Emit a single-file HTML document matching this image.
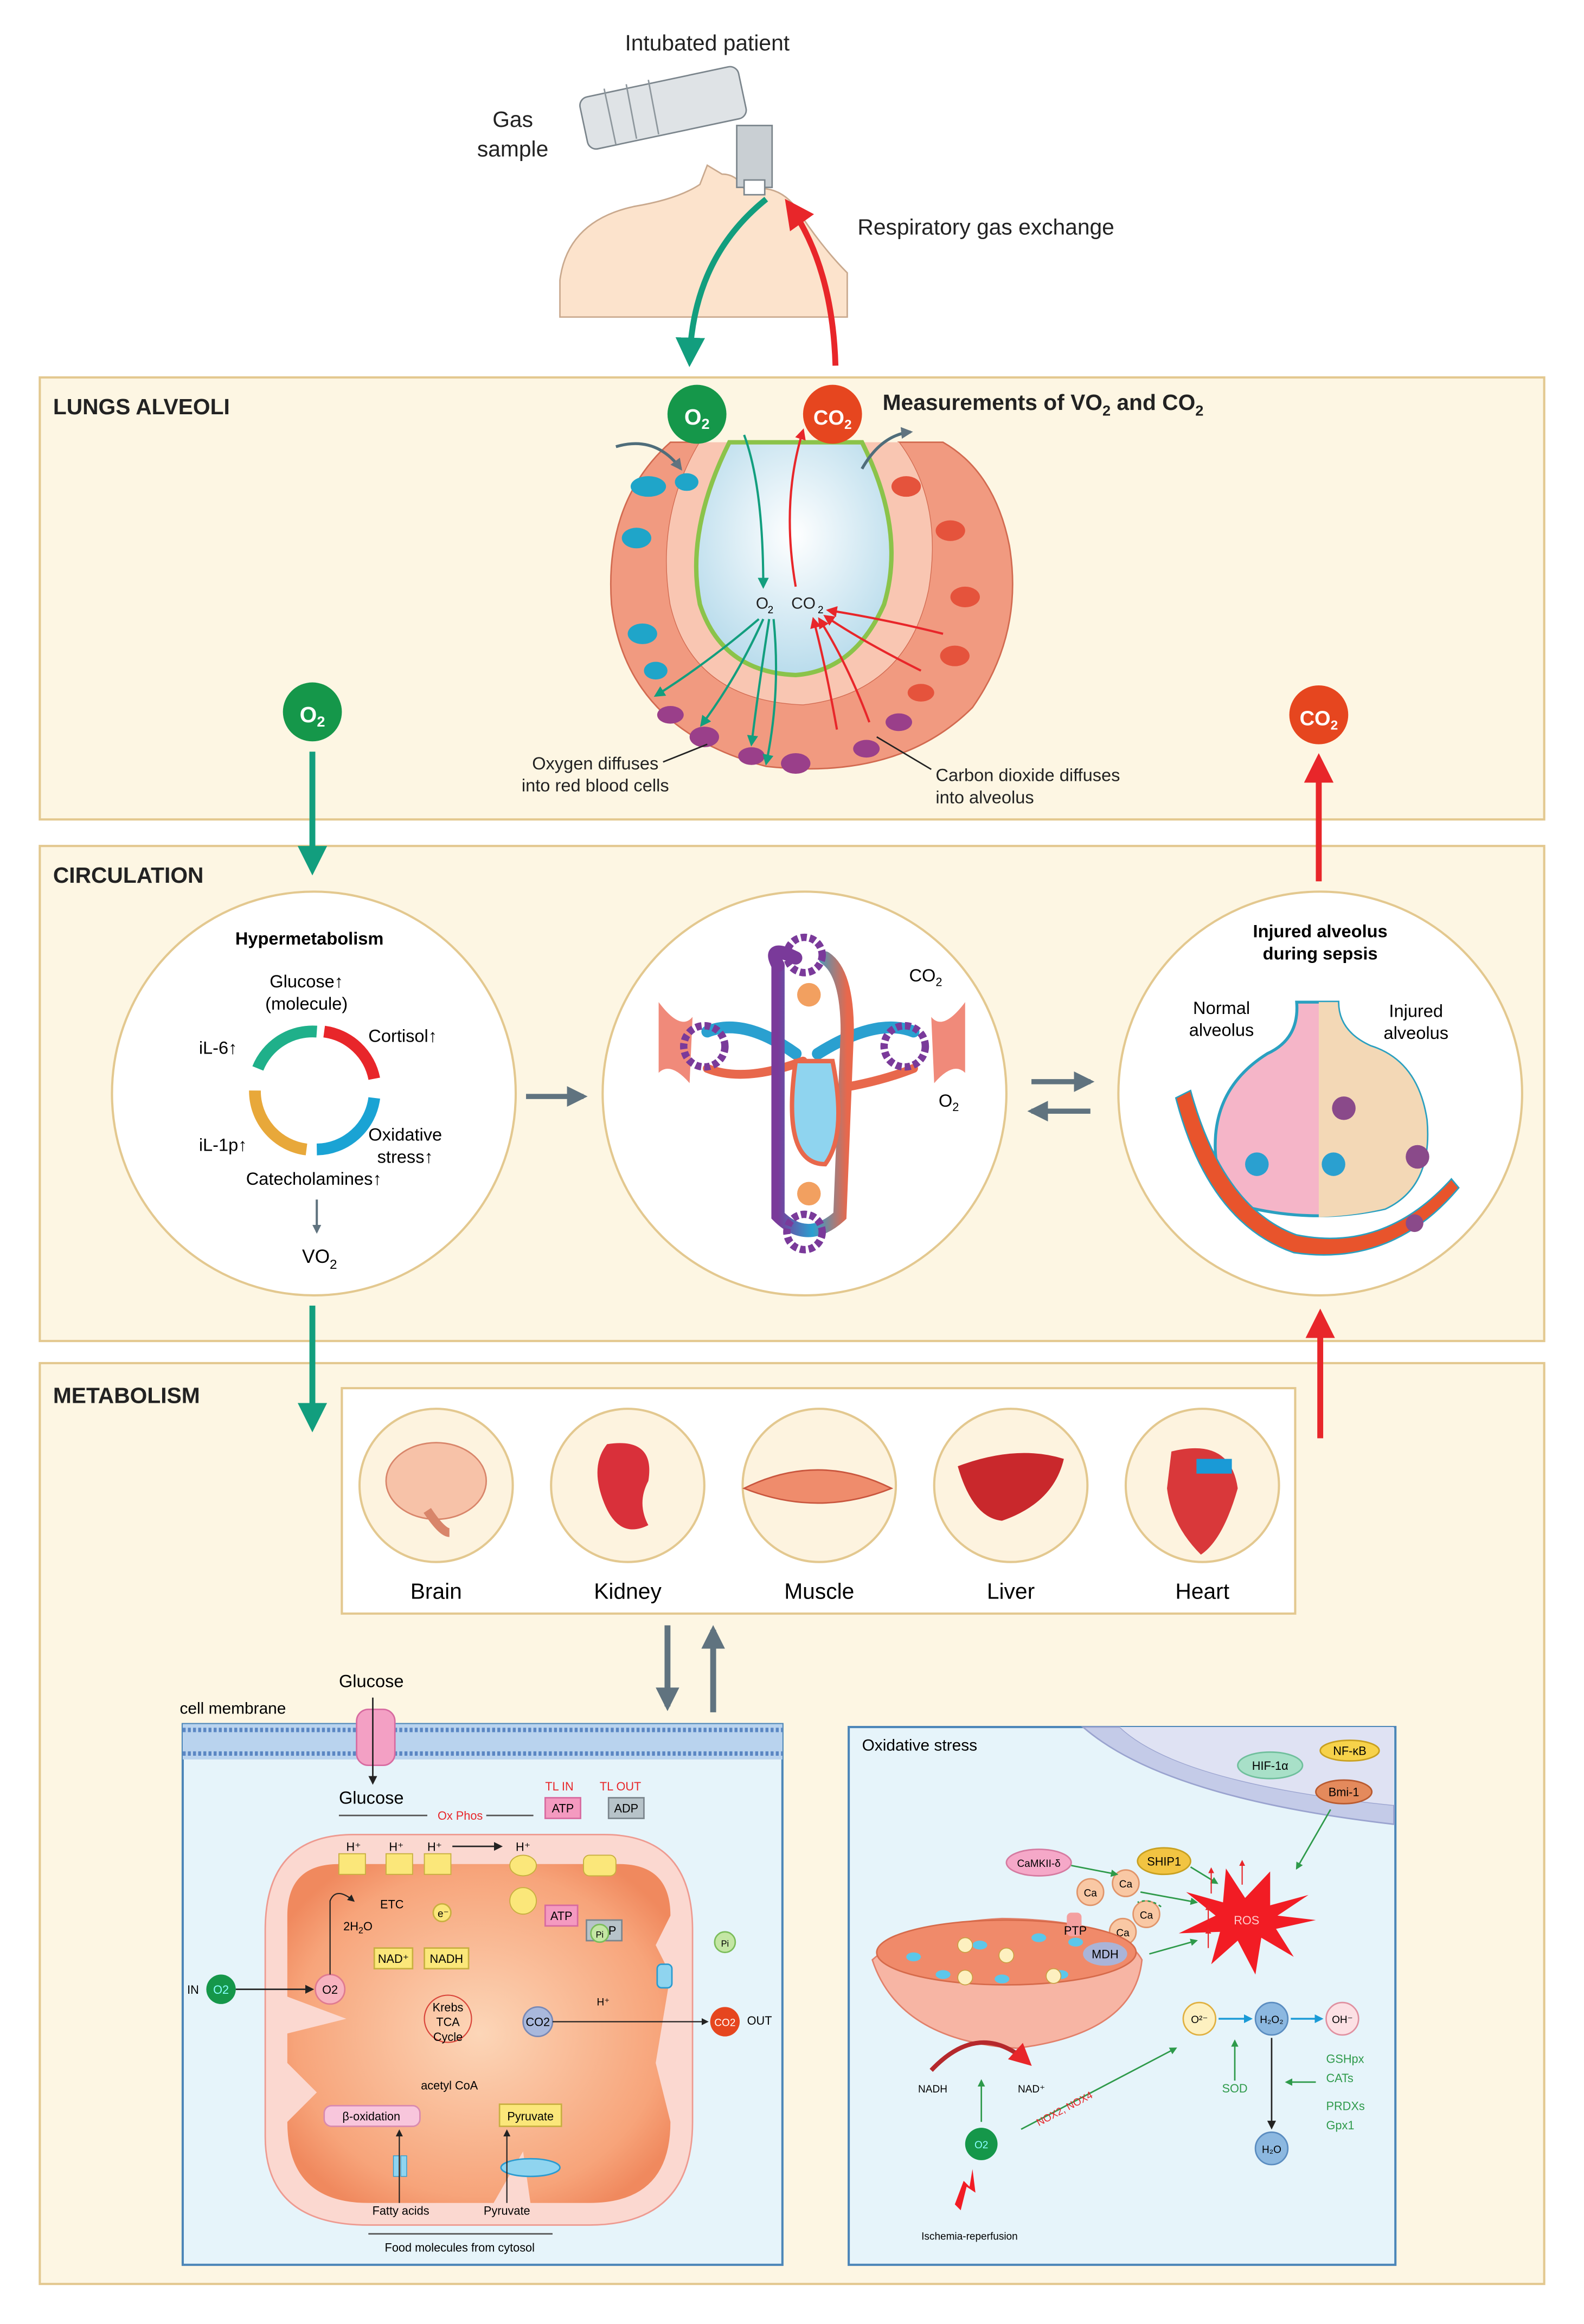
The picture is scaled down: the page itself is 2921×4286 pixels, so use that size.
<!DOCTYPE html>
<html><head><meta charset="utf-8"><style>
html,body{margin:0;padding:0;background:#fff}
svg{display:block}
text{font-family:"Liberation Sans",Arial,sans-serif}
</style></head><body>
<svg width="2921" height="4286" viewBox="0 0 1075 1577" xmlns="http://www.w3.org/2000/svg">
<defs>
<marker id="ag" viewBox="0 0 10 10" refX="8" refY="5" markerWidth="5" markerHeight="5" orient="auto"><path d="M0,0L10,5L0,10z" fill="#129e7e"/></marker>
<marker id="ar" viewBox="0 0 10 10" refX="8" refY="5" markerWidth="5" markerHeight="5" orient="auto"><path d="M0,0L10,5L0,10z" fill="#e8262a"/></marker>
<marker id="ak" viewBox="0 0 10 10" refX="8" refY="5" markerWidth="6" markerHeight="6" orient="auto"><path d="M0,0L10,5L0,10z" fill="#222"/></marker>
<marker id="agr" viewBox="0 0 10 10" refX="8" refY="5" markerWidth="5" markerHeight="5" orient="auto"><path d="M0,0L10,5L0,10z" fill="#2e9a4a"/></marker>
<marker id="ab" viewBox="0 0 10 10" refX="8" refY="5" markerWidth="5" markerHeight="5" orient="auto"><path d="M0,0L10,5L0,10z" fill="#1a9ad6"/></marker>
<marker id="as" viewBox="0 0 10 10" refX="8" refY="5" markerWidth="4" markerHeight="4" orient="auto"><path d="M0,0L10,5L0,10z" fill="#60737f"/></marker>
<radialGradient id="mito" cx="50%" cy="50%" r="60%"><stop offset="0" stop-color="#fcd6b8"/><stop offset="0.8" stop-color="#f7a47a"/><stop offset="1" stop-color="#f0895e"/></radialGradient>
<radialGradient id="alv" cx="50%" cy="40%" r="60%"><stop offset="0" stop-color="#ffffff"/><stop offset="1" stop-color="#b9dcec"/></radialGradient>
<linearGradient id="vein" x1="0" y1="0" x2="1" y2="0"><stop offset="0" stop-color="#7a3a9a"/><stop offset="0.5" stop-color="#2aa0d0"/><stop offset="1" stop-color="#e8684c"/></linearGradient>
</defs>

<!-- Top: patient -->
<text x="480" y="34" font-size="15" text-anchor="middle" fill="#222">Intubated patient</text>
<text x="348" y="86" font-size="15" text-anchor="middle" fill="#222">Gas</text>
<text x="348" y="106" font-size="15" text-anchor="middle" fill="#222">sample</text>
<text x="582" y="159" font-size="15" fill="#222">Respiratory gas exchange</text>
<path d="M380,190 Q385,150 430,140 Q460,135 475,125 L480,112 L490,118 Q500,118 505,128 L520,128 Q535,130 545,148 Q560,170 575,185 L575,215 L380,215 Z" fill="#fce3cc" stroke="#c9a98e" stroke-width="1"/>
<g>
<rect x="395" y="55" width="110" height="36" rx="6" fill="#dfe3e6" stroke="#7b858c" transform="rotate(-12 450 73)"/>
<rect x="500" y="85" width="24" height="42" fill="#c9cfd3" stroke="#7b858c"/>
<rect x="505" y="122" width="14" height="10" fill="#fff" stroke="#7b858c"/>
<line x1="410" y1="60" x2="418" y2="98" stroke="#8e979d"/><line x1="425" y1="57" x2="432" y2="94" stroke="#8e979d"/><line x1="440" y1="54" x2="447" y2="91" stroke="#8e979d"/>
</g>
<path d="M520,135 Q470,175 468,245" fill="none" stroke="#129e7e" stroke-width="4" marker-end="url(#ag)"/>
<path d="M567,248 Q565,180 535,138" fill="none" stroke="#e8262a" stroke-width="4" marker-end="url(#ar)"/>

<!-- Panels -->
<rect x="27" y="256" width="1021" height="300" fill="#fdf6e3" stroke="#e3c88f" stroke-width="1.5"/>
<rect x="27" y="574" width="1021" height="336" fill="#fdf6e3" stroke="#e3c88f" stroke-width="1.5"/>
<rect x="27" y="925" width="1021" height="625" fill="#fdf6e3" stroke="#e3c88f" stroke-width="1.5"/>
<text x="36" y="281" font-size="15" font-weight="bold" fill="#222">LUNGS ALVEOLI</text>
<text x="36" y="599" font-size="15" font-weight="bold" fill="#222">CIRCULATION</text>
<text x="36" y="952" font-size="15" font-weight="bold" fill="#222">METABOLISM</text>

<!-- Lung alveolus -->
<path d="M455,300 Q410,340 415,410 Q425,495 520,520 Q610,530 660,480 Q695,430 685,370 Q675,320 640,300 L610,300 Q640,340 630,400 Q615,470 545,478 Q470,475 455,410 Q445,350 475,300 Z" fill="#f19a80" stroke="#d26a50"/>
<path d="M475,300 Q445,350 455,410 Q470,475 545,478 Q615,470 630,400 Q640,340 610,300 L585,300 Q615,360 600,410 Q580,455 540,458 Q490,456 475,410 Q465,360 495,300Z" fill="#f9c6b2"/>
<path d="M495,300 Q465,360 475,410 Q490,456 540,458 Q580,455 600,410 Q615,360 585,300 Z" fill="url(#alv)" stroke="#8bc34a" stroke-width="3"/>
<g fill="#1fa5c9"><ellipse cx="440" cy="330" rx="12" ry="7"/><ellipse cx="432" cy="365" rx="10" ry="7"/><ellipse cx="436" cy="430" rx="10" ry="7"/><ellipse cx="445" cy="455" rx="8" ry="6"/><ellipse cx="466" cy="327" rx="8" ry="6"/></g>
<g fill="#9a3f8a"><ellipse cx="478" cy="500" rx="10" ry="7"/><ellipse cx="510" cy="513" rx="9" ry="6"/><ellipse cx="540" cy="518" rx="10" ry="7"/><ellipse cx="455" cy="485" rx="9" ry="6"/><ellipse cx="588" cy="508" rx="9" ry="6"/><ellipse cx="610" cy="490" rx="9" ry="6"/></g>
<g fill="#e5533c"><ellipse cx="615" cy="330" rx="10" ry="7"/><ellipse cx="645" cy="360" rx="10" ry="7"/><ellipse cx="655" cy="405" rx="10" ry="7"/><ellipse cx="648" cy="445" rx="10" ry="7"/><ellipse cx="625" cy="470" rx="9" ry="6"/></g>
<text x="513" y="413" font-size="11" fill="#222">O</text><text x="521" y="416" font-size="7">2</text>
<text x="537" y="413" font-size="11" fill="#222">CO</text><text x="555" y="416" font-size="7">2</text>
<g fill="none" stroke="#129e7e" stroke-width="1.5" marker-end="url(#ag)">
<path d="M505,295 Q518,330 518,398"/><path d="M515,420 Q480,450 445,472"/><path d="M518,420 Q500,460 476,492"/><path d="M522,420 Q515,465 510,505"/><path d="M525,420 Q530,470 520,518"/></g>
<g fill="none" stroke="#e8262a" stroke-width="1.5" marker-end="url(#ar)">
<path d="M540,398 Q530,340 545,292"/><path d="M568,495 Q560,450 552,420"/><path d="M590,490 Q575,450 556,420"/><path d="M625,455 Q585,435 560,418"/><path d="M640,430 Q600,420 562,414"/></g>
<path d="M418,303 Q445,295 462,318" fill="none" stroke="#4f6d7a" stroke-width="2" marker-end="url(#as)"/>
<path d="M585,318 Q598,295 618,293" fill="none" stroke="#4f6d7a" stroke-width="2" marker-end="url(#as)"/>
<circle cx="473" cy="281" r="20" fill="#15974a"/><text x="473" y="288" font-size="15" font-weight="bold" fill="#fff" text-anchor="middle">O<tspan font-size="10" dy="3">2</tspan></text>
<circle cx="565" cy="281" r="20" fill="#e6461f"/><text x="565" y="288" font-size="14" font-weight="bold" fill="#fff" text-anchor="middle">CO<tspan font-size="9" dy="3">2</tspan></text>
<text x="599" y="278" font-size="15" font-weight="bold" fill="#222">Measurements of VO<tspan font-size="10" dy="4">2</tspan><tspan dy="-4"> and CO</tspan><tspan font-size="10" dy="4">2</tspan></text>
<text x="404" y="522" font-size="12" text-anchor="middle" fill="#222">Oxygen diffuses</text>
<text x="404" y="537" font-size="12" text-anchor="middle" fill="#222">into red blood cells</text>
<line x1="450" y1="517" x2="480" y2="505" stroke="#222"/>
<text x="635" y="530" font-size="12" fill="#222">Carbon dioxide diffuses</text>
<text x="635" y="545" font-size="12" fill="#222">into alveolus</text>
<line x1="632" y1="522" x2="595" y2="500" stroke="#222"/>
<circle cx="212" cy="483" r="20" fill="#15974a"/><text x="212" y="490" font-size="15" font-weight="bold" fill="#fff" text-anchor="middle">O<tspan font-size="10" dy="3">2</tspan></text>
<circle cx="895" cy="485" r="20" fill="#e6461f"/><text x="895" y="492" font-size="14" font-weight="bold" fill="#fff" text-anchor="middle">CO<tspan font-size="9" dy="3">2</tspan></text>
<line x1="212" y1="510" x2="212" y2="590" stroke="#129e7e" stroke-width="4" marker-end="url(#ag)"/>
<line x1="895" y1="598" x2="895" y2="515" stroke="#e8262a" stroke-width="4" marker-end="url(#ar)"/>

<!-- Circulation circles -->
<circle cx="213" cy="742" r="137" fill="#fff" stroke="#e3c88f" stroke-width="1.5"/>
<circle cx="546" cy="742" r="137" fill="#fff" stroke="#e3c88f" stroke-width="1.5"/>
<circle cx="896" cy="742" r="137" fill="#fff" stroke="#e3c88f" stroke-width="1.5"/>
<text x="210" y="641" font-size="12" font-weight="bold" text-anchor="middle">Hypermetabolism</text>
<text x="208" y="670" font-size="12" text-anchor="middle">Glucose↑</text>
<text x="208" y="685" font-size="12" text-anchor="middle">(molecule)</text>
<text x="250" y="707" font-size="12">Cortisol↑</text>
<text x="135" y="715" font-size="12">iL-6↑</text>
<text x="250" y="774" font-size="12">Oxidative</text>
<text x="256" y="789" font-size="12">stress↑</text>
<text x="135" y="781" font-size="12">iL-1p↑</text>
<text x="213" y="804" font-size="12" text-anchor="middle">Catecholamines↑</text>
<g fill="none" stroke-width="8">
<path d="M175,725 A40,40 0 0 1 215,700" stroke="#1fb08a"/>
<path d="M220,700 A40,40 0 0 1 254,732" stroke="#e8262a"/>
<path d="M254,745 A40,40 0 0 1 215,780" stroke="#1aa3d4"/>
<path d="M208,780 A40,40 0 0 1 173,740" stroke="#e8a83a"/></g>
<line x1="215" y1="814" x2="215" y2="836" stroke="#60737f" stroke-width="1.5" marker-end="url(#as)"/>
<text x="205" y="857" font-size="13">VO<tspan font-size="9" dy="4">2</tspan></text>
<!-- heart/vessels -->
<path d="M447,680 Q462,700 470,690 L468,735 Q455,720 447,728Z" fill="#f08a7a"/>
<path d="M655,680 Q640,700 632,690 L634,735 Q647,720 655,728Z" fill="#f08a7a"/>
<g fill="none" stroke-linecap="round">
<path d="M480,700 Q505,690 540,715" stroke="#2aa0d0" stroke-width="8"/>
<path d="M480,725 Q505,735 545,720" stroke="#e8684c" stroke-width="6"/>
<path d="M620,700 Q595,690 555,715" stroke="#2aa0d0" stroke-width="8"/>
<path d="M620,725 Q595,735 560,740" stroke="#e8684c" stroke-width="6"/>
<path d="M528,655 L528,825 Q548,845 570,825 L575,700 Q575,660 560,650" stroke="url(#vein)" stroke-width="9"/>
<path d="M540,650 Q520,640 528,655" stroke="#7a3a9a" stroke-width="9"/>
</g>
<circle cx="478" cy="710" r="14" fill="none" stroke="#7a3a9a" stroke-width="5" stroke-dasharray="4,2"/>
<circle cx="614" cy="710" r="14" fill="none" stroke="#7a3a9a" stroke-width="5" stroke-dasharray="4,2"/>
<circle cx="546" cy="648" r="12" fill="none" stroke="#7a3a9a" stroke-width="5" stroke-dasharray="4,2"/>
<circle cx="546" cy="836" r="12" fill="none" stroke="#7a3a9a" stroke-width="5" stroke-dasharray="4,2"/>
<path d="M540,720 Q530,790 560,790 Q575,770 565,720Z" fill="#8fd4ef" stroke="#e8684c" stroke-width="3"/>
<circle cx="549" cy="675" r="8" fill="#f2a060"/><circle cx="549" cy="810" r="8" fill="#f2a060"/>
<text x="617" y="666" font-size="12">CO<tspan font-size="8" dy="3">2</tspan></text>
<text x="637" y="751" font-size="12">O<tspan font-size="8" dy="3">2</tspan></text>
<!-- injured alveolus -->
<text x="896" y="636" font-size="12" font-weight="bold" text-anchor="middle">Injured alveolus</text>
<text x="896" y="651" font-size="12" font-weight="bold" text-anchor="middle">during sepsis</text>
<text x="829" y="688" font-size="12" text-anchor="middle">Normal</text><text x="829" y="703" font-size="12" text-anchor="middle">alveolus</text>
<text x="961" y="690" font-size="12" text-anchor="middle">Injured</text><text x="961" y="705" font-size="12" text-anchor="middle">alveolus</text>
<path d="M880,680 Q882,705 860,715 Q828,735 825,770 Q822,810 850,820 Q895,830 940,820 Q972,805 968,760 Q962,720 930,710 Q908,700 908,680Z" fill="#f5b5c8" stroke="#2aa0c0" stroke-width="2"/>
<path d="M895,680 L908,680 Q908,700 930,710 Q962,720 968,760 Q972,805 940,820 Q920,825 895,826Z" fill="#f3d8b6"/>
<path d="M808,740 Q830,820 880,838 Q940,850 985,800 L990,806 Q945,860 878,850 Q820,830 798,745Z" fill="#e8542c" stroke="#2aa0c0"/>
<circle cx="853" cy="790" r="8" fill="#2aa0d0"/><circle cx="905" cy="790" r="8" fill="#2aa0d0"/><circle cx="912" cy="752" r="8" fill="#8a4a8a"/><circle cx="962" cy="785" r="8" fill="#8a4a8a"/><circle cx="960" cy="830" r="6" fill="#8a4a8a"/>
<!-- arrows between circles -->
<line x1="357" y1="744" x2="396" y2="744" stroke="#60737f" stroke-width="3.5" marker-end="url(#as)"/>
<line x1="700" y1="734" x2="740" y2="734" stroke="#60737f" stroke-width="3.5" marker-end="url(#as)"/>
<line x1="740" y1="754" x2="700" y2="754" stroke="#60737f" stroke-width="3.5" marker-end="url(#as)"/>
<line x1="212" y1="886" x2="212" y2="968" stroke="#129e7e" stroke-width="4" marker-end="url(#ag)"/>
<line x1="896" y1="976" x2="896" y2="892" stroke="#e8262a" stroke-width="4" marker-end="url(#ar)"/>

<!-- Organs -->
<rect x="232" y="942" width="647" height="153" fill="#fff" stroke="#e3c88f" stroke-width="1.5"/>
<g fill="#fdf3df" stroke="#e3c88f" stroke-width="1.5">
<circle cx="296" cy="1008" r="52"/><circle cx="426" cy="1008" r="52"/><circle cx="556" cy="1008" r="52"/><circle cx="686" cy="1008" r="52"/><circle cx="816" cy="1008" r="52"/></g>
<ellipse cx="296" cy="1005" rx="34" ry="26" fill="#f7c2a8" stroke="#d8856a"/><path d="M290,1025 Q300,1040 305,1040" stroke="#d8856a" stroke-width="6" fill="none"/>
<path d="M412,980 Q445,975 440,1005 Q432,1020 440,1035 Q420,1045 410,1020 Q400,995 412,980Z" fill="#d9303a"/>
<path d="M505,1010 Q555,985 605,1010 Q555,1030 505,1010Z" fill="#ef8c6c" stroke="#c9563e"/>
<path d="M650,995 Q690,980 722,990 Q715,1020 680,1032 Q660,1030 650,995Z" fill="#c9282c"/>
<path d="M795,985 Q835,975 840,1010 Q830,1045 815,1055 Q795,1035 792,1010Z" fill="#d9383a"/><rect x="812" y="990" width="24" height="10" fill="#1a9ad6"/>
<g font-size="15" text-anchor="middle"><text x="296" y="1085">Brain</text><text x="426" y="1085">Kidney</text><text x="556" y="1085">Muscle</text><text x="686" y="1085">Liver</text><text x="816" y="1085">Heart</text></g>
<line x1="453" y1="1103" x2="453" y2="1158" stroke="#60737f" stroke-width="4" marker-end="url(#as)"/>
<line x1="484" y1="1162" x2="484" y2="1106" stroke="#60737f" stroke-width="4" marker-end="url(#as)"/>

<!-- Left cell panel -->
<rect x="124" y="1170" width="407" height="367" fill="#e6f4fa" stroke="#4c86b8" stroke-width="1.5"/>
<rect x="124" y="1170" width="407" height="24" fill="#b9d3ee"/>
<g stroke="#5b87c3" stroke-width="1" fill="none">
<line x1="124" y1="1174" x2="531" y2="1174" stroke-dasharray="2,1.5" stroke-width="3"/>
<line x1="124" y1="1190" x2="531" y2="1190" stroke-dasharray="2,1.5" stroke-width="3"/></g>
<text x="122" y="1163" font-size="11">cell membrane</text>
<text x="252" y="1145" font-size="12" text-anchor="middle">Glucose</text>
<rect x="242" y="1160" width="26" height="38" rx="8" fill="#f3a0c4" stroke="#d76aa0"/>
<line x1="253" y1="1152" x2="253" y2="1210" stroke="#222" marker-end="url(#ak)"/>
<text x="252" y="1224" font-size="12" text-anchor="middle">Glucose</text>
<line x1="230" y1="1232" x2="290" y2="1232" stroke="#555"/><text x="297" y="1235" font-size="8" fill="#e8262a">Ox Phos</text><line x1="330" y1="1232" x2="362" y2="1232" stroke="#555"/>
<text x="370" y="1215" font-size="8" fill="#e8262a">TL IN</text><text x="407" y="1215" font-size="8" fill="#e8262a">TL OUT</text>
<rect x="370" y="1220" width="24" height="14" fill="#f49ac0" stroke="#d76aa0"/><text x="382" y="1230" font-size="8" text-anchor="middle">ATP</text>
<rect x="413" y="1220" width="24" height="14" fill="#b7c3c9" stroke="#7b858c"/><text x="425" y="1230" font-size="8" text-anchor="middle">ADP</text>
<path d="M240,1245 Q180,1245 180,1310 L180,1450 Q180,1510 250,1510 L400,1510 Q470,1510 470,1440 L470,1310 Q470,1245 410,1245Z" fill="#fbd8d0" stroke="#ee9a90"/>
<path d="M230,1265 L420,1265 Q455,1265 455,1300 L445,1320 L455,1340 L445,1400 L455,1440 Q455,1495 400,1495 L360,1495 L355,1460 L335,1495 L250,1495 Q195,1495 195,1440 L215,1420 L195,1400 L195,1380 L235,1370 L195,1355 L195,1300 Q195,1265 230,1265Z" fill="url(#mito)"/>
<g fill="#fbe77a" stroke="#c8b040" stroke-width="0.7"><rect x="230" y="1258" width="18" height="14"/><rect x="262" y="1258" width="18" height="14"/><rect x="288" y="1258" width="18" height="14"/><ellipse cx="355" cy="1266" rx="9" ry="7"/><ellipse cx="355" cy="1290" rx="9" ry="9"/><rect x="396" y="1259" width="22" height="14" rx="4"/></g>
<g font-size="8"><text x="235" y="1256">H⁺</text><text x="264" y="1256">H⁺</text><text x="290" y="1256">H⁺</text><text x="350" y="1256">H⁺</text><line x1="307" y1="1253" x2="340" y2="1253" stroke="#222" marker-end="url(#ak)"/>
<text x="258" y="1295">ETC</text><text x="233" y="1310">2H<tspan font-size="6" dy="2">2</tspan><tspan dy="-2">O</tspan></text></g>
<circle cx="300" cy="1298" r="6" fill="#fbe77a" stroke="#c8b040"/><text x="297" y="1301" font-size="7">e⁻</text>
<rect x="254" y="1322" width="26" height="14" fill="#fbe77a" stroke="#c8b040"/><text x="267" y="1332" font-size="8" text-anchor="middle">NAD⁺</text>
<rect x="288" y="1322" width="30" height="14" fill="#fbe77a" stroke="#c8b040"/><text x="303" y="1332" font-size="8" text-anchor="middle">NADH</text>
<rect x="370" y="1293" width="22" height="14" fill="#f49ac0" stroke="#d76aa0"/><text x="381" y="1303" font-size="8" text-anchor="middle">ATP</text>
<rect x="398" y="1303" width="24" height="14" fill="#b7c3c9" stroke="#7b858c"/><text x="410" y="1313" font-size="8" text-anchor="middle">ADP</text>
<circle cx="150" cy="1350" r="10" fill="#15974a"/><text x="150" y="1353" font-size="8" fill="#8ff" text-anchor="middle">O2</text><text x="127" y="1353" font-size="8">IN</text>
<line x1="160" y1="1350" x2="212" y2="1350" stroke="#222" marker-end="url(#ak)"/>
<circle cx="224" cy="1350" r="10" fill="#f7b3c0" stroke="#e07a90"/><text x="224" y="1353" font-size="8" text-anchor="middle">O2</text>
<path d="M224,1340 L224,1290 Q228,1280 240,1290" fill="none" stroke="#222" stroke-width="0.8" marker-end="url(#ak)"/>
<circle cx="304" cy="1370" r="16" fill="none" stroke="#d9453a" stroke-width="0.8"/>
<text x="304" y="1365" font-size="8" text-anchor="middle">Krebs</text><text x="304" y="1375" font-size="8" text-anchor="middle">TCA</text><text x="304" y="1385" font-size="8" text-anchor="middle">Cycle</text>
<circle cx="365" cy="1372" r="10" fill="#a9b8dc" stroke="#7888b5"/><text x="365" y="1375" font-size="8" text-anchor="middle">CO2</text>
<line x1="375" y1="1372" x2="480" y2="1372" stroke="#222" stroke-width="0.8" marker-end="url(#ak)"/>
<circle cx="492" cy="1372" r="10" fill="#e6461f"/><text x="492" y="1375" font-size="7" fill="#fff" text-anchor="middle">CO2</text><text x="507" y="1374" font-size="8">OUT</text>
<circle cx="407" cy="1312" r="6" fill="#c4e6a4" stroke="#7bbd5a"/><text x="407" y="1315" font-size="6" text-anchor="middle">Pi</text>
<circle cx="492" cy="1318" r="7" fill="#c4e6a4" stroke="#7bbd5a"/><text x="492" y="1321" font-size="6" text-anchor="middle">Pi</text>
<rect x="446" y="1333" width="10" height="16" rx="3" fill="#8fd4ef" stroke="#2a9bd0"/>
<text x="405" y="1361" font-size="7">H⁺</text>
<text x="305" y="1418" font-size="8" text-anchor="middle">acetyl CoA</text>
<rect x="220" y="1429" width="65" height="14" rx="5" fill="#f8c6dc" stroke="#d98ab0"/><text x="252" y="1439" font-size="8" text-anchor="middle">β-oxidation</text>
<rect x="339" y="1428" width="42" height="15" fill="#fbe77a" stroke="#c8b040"/><text x="360" y="1439" font-size="8" text-anchor="middle">Pyruvate</text>
<ellipse cx="360" cy="1471" rx="20" ry="6" fill="#8fd4ef" stroke="#2a9bd0"/>
<rect x="267" y="1463" width="4" height="14" fill="#8fd4ef" stroke="#2a9bd0" stroke-width="0.5"/><rect x="272" y="1463" width="4" height="14" fill="#8fd4ef" stroke="#2a9bd0" stroke-width="0.5"/>
<line x1="271" y1="1495" x2="271" y2="1446" stroke="#222" stroke-width="0.8" marker-end="url(#ak)"/>
<line x1="344" y1="1495" x2="344" y2="1446" stroke="#222" stroke-width="0.8" marker-end="url(#ak)"/>
<text x="272" y="1503" font-size="8" text-anchor="middle">Fatty acids</text><text x="344" y="1503" font-size="8" text-anchor="middle">Pyruvate</text>
<line x1="250" y1="1516" x2="375" y2="1516" stroke="#555"/><text x="312" y="1528" font-size="8" text-anchor="middle">Food molecules from cytosol</text>

<!-- Right oxidative panel -->
<rect x="576" y="1172" width="371" height="365" fill="#e6f4fa" stroke="#4c86b8" stroke-width="1.5"/>
<text x="585" y="1188" font-size="11">Oxidative stress</text>
<path d="M735,1172 Q790,1220 946,1238 L946,1225 Q800,1210 760,1172Z" fill="#c4cbe8" stroke="#9aa3cf"/>
<path d="M760,1172 L946,1172 L946,1225 Q800,1210 760,1172Z" fill="#dfe2f3"/>
<ellipse cx="862" cy="1198" rx="22" ry="9" fill="#a8e0c8" stroke="#6fbf9c"/><text x="862" y="1201" font-size="8" text-anchor="middle">HIF-1α</text>
<ellipse cx="916" cy="1188" rx="20" ry="7" fill="#f7d24a" stroke="#c8a020"/><text x="916" y="1191" font-size="8" text-anchor="middle">NF-κB</text>
<ellipse cx="912" cy="1216" rx="19" ry="8" fill="#e48a5c" stroke="#b85a30"/><text x="912" y="1219" font-size="8" text-anchor="middle">Bmi-1</text>
<ellipse cx="705" cy="1264" rx="22" ry="9" fill="#f5a8c8" stroke="#d57aa0"/><text x="705" y="1267" font-size="7" text-anchor="middle">CaMKII-δ</text>
<ellipse cx="790" cy="1263" rx="18" ry="9" fill="#f2c442" stroke="#c8a020"/><text x="790" y="1266" font-size="8" text-anchor="middle">SHIP1</text>
<g fill="#f9c8a4" stroke="#e0946a"><circle cx="740" cy="1284" r="9"/><circle cx="764" cy="1278" r="9"/><circle cx="778" cy="1299" r="9"/><circle cx="762" cy="1311" r="9"/></g>
<g font-size="7" text-anchor="middle"><text x="740" y="1287">Ca</text><text x="764" y="1281">Ca</text><text x="778" y="1302">Ca</text><text x="762" y="1314">Ca</text></g>
<polygon points="893,1303 866,1309 878,1328 856,1315 852,1340 840,1317 822,1333 828,1311 800,1312 825,1300 805,1284 830,1291 832,1268 845,1288 862,1270 862,1293 888,1286 867,1300" fill="#f21c24"/>
<text x="846" y="1306" font-size="8" fill="#fcc" text-anchor="middle">ROS</text>
<g stroke="#2e9a4a" stroke-width="1" fill="none" marker-end="url(#agr)">
<line x1="727" y1="1266" x2="758" y2="1272"/><line x1="808" y1="1267" x2="826" y2="1278"/><line x1="774" y1="1284" x2="812" y2="1291"/><line x1="780" y1="1326" x2="812" y2="1317"/><line x1="903" y1="1228" x2="880" y2="1268"/>
<line x1="693" y1="1445" x2="798" y2="1390"/><line x1="666" y1="1440" x2="666" y2="1412"/><line x1="838" y1="1412" x2="838" y2="1385"/><line x1="893" y1="1413" x2="873" y2="1413"/></g>
<path d="M788,1294 Q780,1288 772,1291" fill="none" stroke="#2e9a4a" stroke-dasharray="2,2"/>
<g stroke="#e8262a" stroke-width="0.8" marker-end="url(#ar)"><line x1="822" y1="1285" x2="822" y2="1268"/><line x1="843" y1="1279" x2="843" y2="1263"/><line x1="820" y1="1305" x2="820" y2="1293"/><line x1="820" y1="1322" x2="820" y2="1309"/></g>
<path d="M592,1330 Q620,1305 680,1302 Q760,1303 775,1330 Q770,1380 690,1390 Q610,1385 592,1330Z" fill="#f7b5a4" stroke="#e2806a"/>
<ellipse cx="683" cy="1325" rx="88" ry="22" fill="#f08a6a" stroke="#d66a4a"/>
<g fill="#5cc7ea"><ellipse cx="620" cy="1328" rx="5" ry="3"/><ellipse cx="640" cy="1340" rx="5" ry="3"/><ellipse cx="680" cy="1343" rx="5" ry="3"/><ellipse cx="705" cy="1315" rx="5" ry="3"/><ellipse cx="720" cy="1340" rx="5" ry="3"/><ellipse cx="730" cy="1318" rx="5" ry="3"/><ellipse cx="665" cy="1320" rx="5" ry="3"/></g>
<g fill="#fdf0c0" stroke="#c8a040" stroke-width="0.6"><circle cx="655" cy="1320" r="5"/><circle cx="655" cy="1342" r="5"/><circle cx="683" cy="1327" r="5"/><circle cx="715" cy="1341" r="5"/></g>
<ellipse cx="750" cy="1326" rx="15" ry="8" fill="#aab4d8"/><text x="750" y="1329" font-size="8" text-anchor="middle">MDH</text>
<rect x="724" y="1298" width="10" height="16" rx="3" fill="#f4a0a0"/>
<text x="722" y="1313" font-size="8">PTP</text>
<path d="M632,1405 Q665,1370 698,1400" fill="none" stroke="#b5282c" stroke-width="3" marker-end="url(#ar)"/>
<text x="633" y="1420" font-size="7" text-anchor="middle">NADH</text><text x="700" y="1420" font-size="7" text-anchor="middle">NAD⁺</text>
<circle cx="666" cy="1455" r="11" fill="#15974a"/><text x="666" y="1458" font-size="7" fill="#8ff" text-anchor="middle">O2</text>
<path d="M660,1472 L662,1488 L656,1484 L652,1500 L648,1496 L654,1480 L658,1484Z" fill="#f21c24"/>
<text x="658" y="1520" font-size="7" text-anchor="middle">Ischemia-reperfusion</text>
<text x="705" y="1443" font-size="7" fill="#e8262a" transform="rotate(-28 705 1443)">NOX2, NOX4</text>
<circle cx="814" cy="1370" r="11" fill="#fdf0c0" stroke="#e0b040"/><text x="814" y="1373" font-size="7" text-anchor="middle">O²⁻</text>
<circle cx="863" cy="1370" r="11" fill="#8cb8e0" stroke="#5a8cc0"/><text x="863" y="1373" font-size="7" text-anchor="middle">H₂O₂</text>
<circle cx="911" cy="1370" r="11" fill="#fce0e4" stroke="#e090a0"/><text x="911" y="1373" font-size="7" text-anchor="middle">OH⁻</text>
<circle cx="863" cy="1458" r="11" fill="#8cb8e0" stroke="#5a8cc0"/><text x="863" y="1461" font-size="7" text-anchor="middle">H₂O</text>
<g stroke="#1a9ad6" stroke-width="1.2" marker-end="url(#ab)"><line x1="827" y1="1370" x2="849" y2="1370"/><line x1="876" y1="1370" x2="897" y2="1370"/></g>
<line x1="863" y1="1383" x2="863" y2="1444" stroke="#222" marker-end="url(#ak)"/>
<text x="838" y="1420" font-size="8" fill="#2e9a4a" text-anchor="middle">SOD</text>
<g font-size="8" fill="#2e9a4a"><text x="900" y="1400">GSHpx</text><text x="900" y="1413">CATs</text><text x="900" y="1432">PRDXs</text><text x="900" y="1445">Gpx1</text></g>
</svg>
</body></html>
